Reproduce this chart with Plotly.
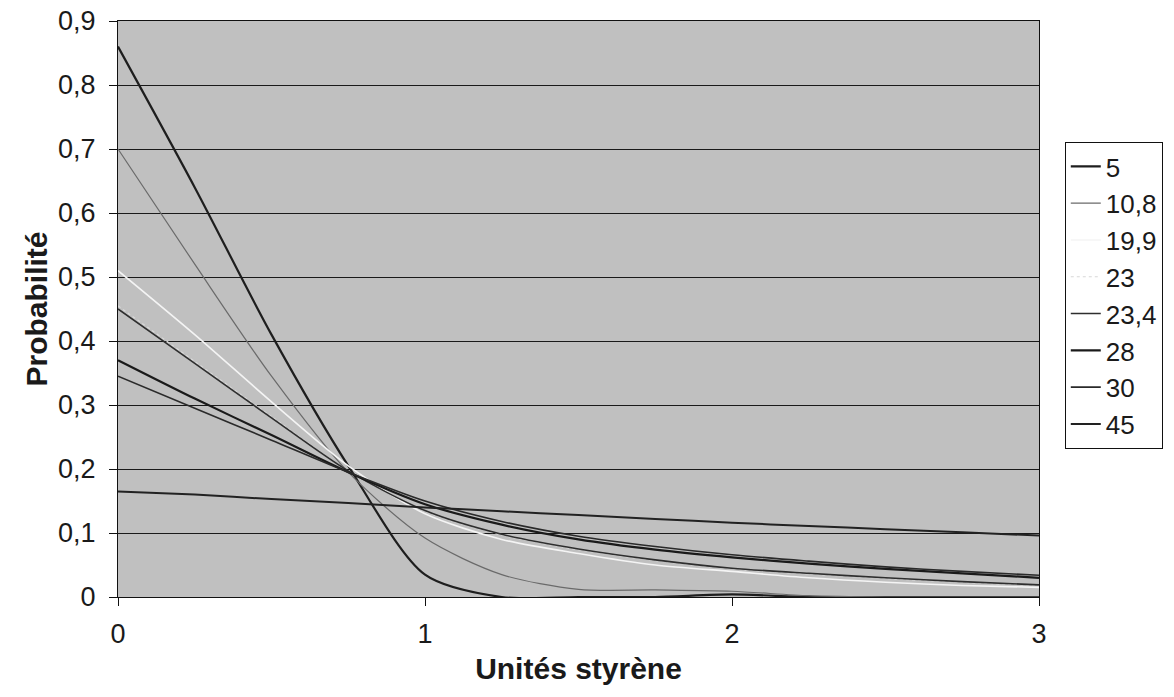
import plotly.graph_objects as go

# Data (x = styrene units)
x_units = [0, 0.25, 0.5, 0.75, 1, 1.25, 1.5, 1.75, 2, 2.25, 2.5, 2.75, 3]

s_5    = [0.86, 0.64, 0.41, 0.205, 0.035, 0.0, 0.0, 0.0, 0.004, 0.0, 0.0, 0.0, 0.0]
s_10_8 = [0.70, 0.52, 0.345, 0.195, 0.092, 0.035, 0.012, 0.011, 0.009, 0.002, 0.0, 0.0, 0.0]
s_19_9 = [0.51, 0.41, 0.305, 0.205, 0.13, 0.09, 0.068, 0.05, 0.04, 0.03, 0.023, 0.018, 0.015]
s_23   = [0.455, 0.368, 0.282, 0.197, 0.134, 0.097, 0.074, 0.057, 0.044, 0.036, 0.029, 0.023, 0.018]
s_23_4 = [0.45, 0.365, 0.28, 0.197, 0.135, 0.098, 0.075, 0.058, 0.045, 0.037, 0.03, 0.024, 0.019]
s_28   = [0.37, 0.31, 0.253, 0.195, 0.145, 0.113, 0.09, 0.074, 0.062, 0.052, 0.044, 0.037, 0.03]
s_30   = [0.345, 0.295, 0.245, 0.195, 0.15, 0.118, 0.095, 0.079, 0.066, 0.056, 0.047, 0.04, 0.034]
s_45   = [0.165, 0.16, 0.153, 0.147, 0.14, 0.134, 0.128, 0.122, 0.116, 0.111, 0.106, 0.101, 0.096]

series_names = ["5", "10,8", "19,9", "23", "23,4", "28", "30", "45"]
series_values = [s_5, s_10_8, s_19_9, s_23, s_23_4, s_28, s_30, s_45]

y_tick_vals = [0, 0.1, 0.2, 0.3, 0.4, 0.5, 0.6, 0.7, 0.8, 0.9]
y_tick_labels = ["0", "0,1", "0,2", "0,3", "0,4", "0,5", "0,6", "0,7", "0,8", "0,9"]
x_tick_vals = [0, 1, 2, 3]
x_tick_labels = ["0", "1", "2", "3"]

styles = [
    dict(color="#1e1e1e", width=2.2, dash="solid"),
    dict(color="#6a6a6a", width=1.2, dash="solid"),
    dict(color="#f4f4f4", width=1.6, dash="solid"),
    dict(color="#d8d8d8", width=1.2, dash="dot"),
    dict(color="#2e2e2e", width=1.6, dash="solid"),
    dict(color="#1a1a1a", width=2.2, dash="solid"),
    dict(color="#2a2a2a", width=1.6, dash="solid"),
    dict(color="#222222", width=2.0, dash="solid"),
]

FONT = "Liberation Sans, Arial, sans-serif"

fig = go.Figure()
for name, vals, st in zip(series_names, series_values, styles):
    fig.add_trace(go.Scatter(
        x=x_units, y=vals, name=name, mode="lines",
        line=dict(color=st["color"], width=st["width"], dash=st["dash"],
                  shape="spline", smoothing=0.8),
    ))

fig.update_layout(
    width=1174, height=697,
    margin=dict(l=118, r=135, t=21, b=100, autoexpand=False),
    paper_bgcolor="white",
    plot_bgcolor="#c0c0c0",
    font=dict(family=FONT, size=27, color="#1a1a1a"),
    showlegend=True,
    legend=dict(
        x=1.028, xanchor="left", y=0.79, yanchor="top",
        bgcolor="white", bordercolor="#111111", borderwidth=1,
        font=dict(family=FONT, size=26, color="#1a1a1a"),
        traceorder="normal", itemwidth=30,
    ),
)

fig.update_xaxes(
    range=[0, 3], tickvals=x_tick_vals, ticktext=x_tick_labels,
    showgrid=False, zeroline=False, automargin=False,
    showline=True, linecolor="#111111", linewidth=1.2, mirror=True,
    ticks="outside", ticklen=8, tickcolor="#111111",
    ticklabelstandoff=4, ticklabeloverflow="allow",
    title=dict(text="<b>Unités styrène</b>", font=dict(family=FONT, size=30), standoff=10),
)
fig.update_yaxes(
    range=[0, 0.9], tickvals=y_tick_vals, ticktext=y_tick_labels,
    showgrid=True, gridcolor="#1a1a1a", gridwidth=1.2, zeroline=False, automargin=False,
    showline=True, linecolor="#111111", linewidth=1.2, mirror=True,
    ticks="outside", ticklen=8, tickcolor="#111111",
    ticklabelstandoff=8, ticklabeloverflow="allow",
    title=dict(text="<b>Probabilité</b>", font=dict(family=FONT, size=30), standoff=1),
)

# remove the browser's default 8px body margin so the figure fills the window
fig.write_html("out.html", config={"displayModeBar": False},
               post_script="document.body.style.margin='0px';")
